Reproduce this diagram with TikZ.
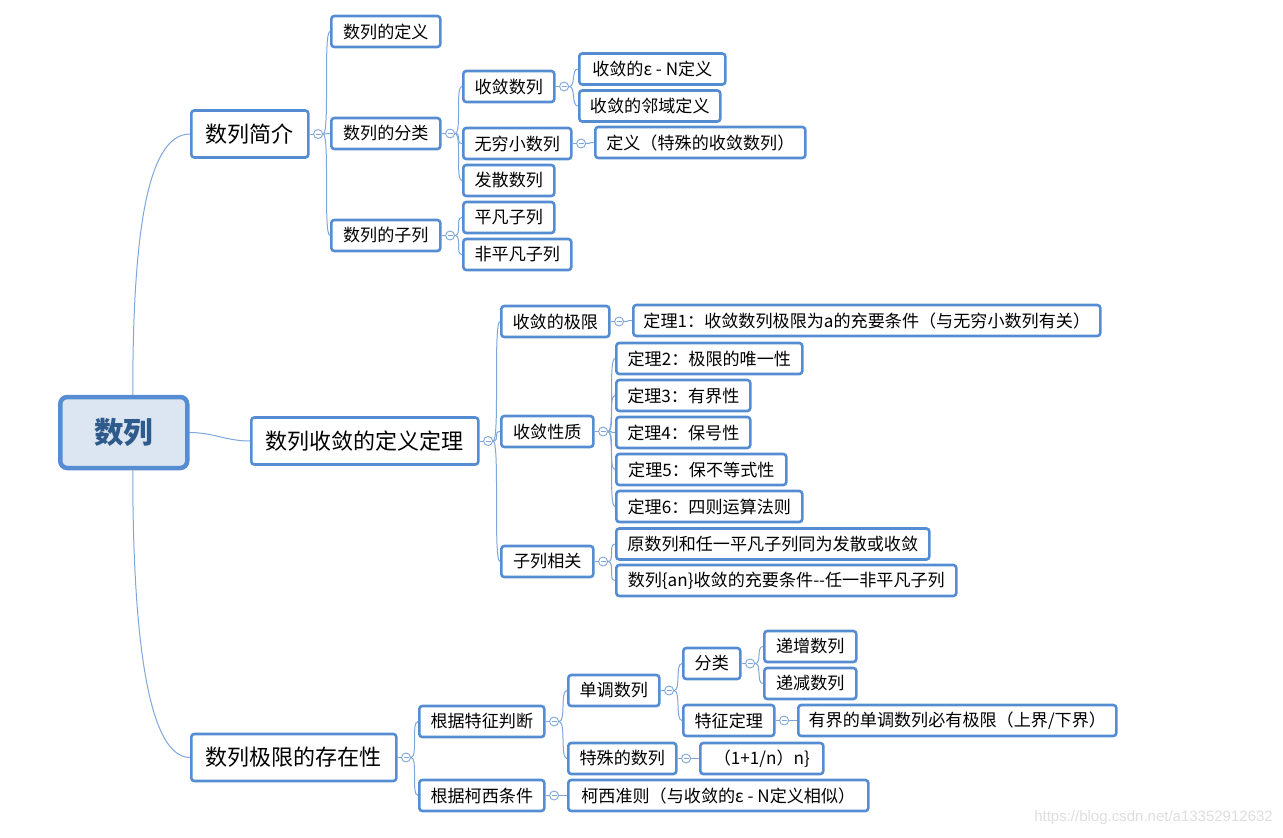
\documentclass[tikz,border=0pt]{standalone}
\usepackage{fontspec}
\newfontfamily\cjk{Noto Sans CJK SC}
\newfontfamily\wmfont{Liberation Sans}
\usetikzlibrary{calc,backgrounds}
\definecolor{bord}{RGB}{86,141,210}
\definecolor{conn}{RGB}{126,166,219}
\definecolor{rootfill}{RGB}{220,230,242}
\definecolor{roottext}{RGB}{47,90,140}
\newcommand\mmbox[6][box]{\pgfmathsetmacro\mmw{#4-#3}\node[#1,minimum width=\mmw pt,anchor=west] (#2) at (#3,#5) {#6};}
\newcommand\mmfan[2]{%
  \begin{pgfonlayer}{background}
  \node[col] (#1c) at ([xshift=8.5pt]#1.east) {};
  \draw[cline] (#1.east) -- (#1c.west);
  \foreach \ch in {#2} {\draw[cline] (#1c.east) to[out=0,in=180,out distance=7pt,in distance=7pt] (\ch.west);}
  \end{pgfonlayer}}
\begin{document}
\begin{tikzpicture}[x=1pt,y=-1pt,
  box/.style={draw=bord, line width=2.6pt, rounded corners=3pt, fill=white, inner sep=0pt,
    minimum height=31pt, font=\cjk\fontsize{17.1}{19}\selectfont},
  big/.style={box, minimum height=47pt, font=\cjk\fontsize{22}{24}\selectfont},
  rootbox/.style={draw=bord, line width=4.5pt, rounded corners=7pt, fill=rootfill, inner sep=0pt,
    minimum height=71pt, text=roottext, font=\cjk\bfseries\fontsize{29.5}{32}\selectfont},
  cline/.style={draw=conn, line width=1pt},
  col/.style={circle, draw=conn, fill=white, line width=0.9pt, minimum size=9pt, inner sep=0pt,
    path picture={\draw[conn,line width=0.9pt] ([xshift=-2.6pt]path picture bounding box.center) -- ([xshift=2.6pt]path picture bounding box.center);}}
]
\useasboundingbox (0,0) rectangle (1283,838);
% root
\mmbox[rootbox]{root}{58}{185}{432.5}{数列}
% level 1
\mmbox[big]{b1}{190}{307}{134}{数列简介}
\mmbox[big]{b2}{250}{477}{441}{数列收敛的定义定理}
\mmbox[big]{b3}{190}{395}{757.5}{数列极限的存在性}
% branch 1
\mmbox{a1}{330}{439}{31.5}{数列的定义}
\mmbox{a2}{330}{439}{133.5}{数列的分类}
\mmbox{a3}{330}{439}{235.5}{数列的子列}
\mmbox{a21}{462}{553}{86.5}{收敛数列}
\mmbox{a22}{462}{570}{143.5}{无穷小数列}
\mmbox{a23}{462}{553}{180.5}{发散数列}
\mmbox{a31}{462}{553}{217.5}{平凡子列}
\mmbox{a32}{462}{570}{254.5}{非平凡子列}
\mmbox{a211}{578}{724}{69}{收敛的ε - N定义}
\mmbox{a212}{578}{719}{106}{收敛的邻域定义}
\mmbox{a221}{594}{804}{142.5}{定义（特殊的收敛数列）}
% branch 2
\mmbox{c1}{500}{608}{321.5}{收敛的极限}
\mmbox{c11}{632}{1099}{320.5}{定理1：收敛数列极限为a的充要条件（与无穷小数列有关）}
\mmbox{c2}{500}{592}{431.5}{收敛性质}
\mmbox{c21}{615}{801}{358.5}{定理2：极限的唯一性}
\mmbox{c22}{615}{749}{395.5}{定理3：有界性}
\mmbox{c23}{615}{749}{432.5}{定理4：保号性}
\mmbox{c24}{615}{785}{469.5}{定理5：保不等式性}
\mmbox{c25}{615}{801}{506.5}{定理6：四则运算法则}
\mmbox{c3}{500}{592}{561.5}{子列相关}
\mmbox{c31}{615}{928}{544}{原数列和任一平凡子列同为发散或收敛}
\mmbox{c32}{615}{955}{580.5}{数列\{an\}收敛的充要条件-{}-任一非平凡子列}
% branch 3
\mmbox{d1}{418}{543}{721.5}{根据特征判断}
\mmbox{d2}{418}{543}{795.5}{根据柯西条件}
\mmbox{d11}{567}{658}{690.5}{单调数列}
\mmbox{d12}{567}{675}{758.5}{特殊的数列}
\mmbox{d111}{682}{739}{663.5}{分类}
\mmbox{d112}{682}{773}{720.5}{特征定理}
\mmbox{d1111}{763}{855}{646.5}{递增数列}
\mmbox{d1112}{763}{855}{683.5}{递减数列}
\mmbox{d1121}{797}{1115}{720.5}{有界的单调数列必有极限（上界/下界）}
\mmbox{d121}{699}{822}{758.5}{（1+1/n）n\}}
\mmbox{d21}{567}{867}{795.5}{柯西准则（与收敛的ε - N定义相似）}
% connectors from root
\begin{pgfonlayer}{background}
\coordinate (rt) at ([xshift=9pt]root.north);
\coordinate (rb) at ([xshift=9pt]root.south);
\draw[cline] (rt) .. controls ([yshift=150pt]rt) and ([xshift=-45pt]b1.west) .. (b1.west);
\draw[cline] (rb) .. controls ([yshift=-150pt]rb) and ([xshift=-45pt]b3.west) .. (b3.west);
\draw[cline] (root.east) to[out=0,in=180] (b2.west);
\end{pgfonlayer}
% fans
\mmfan{b1}{a1,a2,a3}
\mmfan{a2}{a21,a22,a23}
\mmfan{a3}{a31,a32}
\mmfan{a21}{a211,a212}
\mmfan{a22}{a221}
\mmfan{b2}{c1,c2,c3}
\mmfan{c1}{c11}
\mmfan{c2}{c21,c22,c23,c24,c25}
\mmfan{c3}{c31,c32}
\mmfan{b3}{d1,d2}
\mmfan{d1}{d11,d12}
\mmfan{d11}{d111,d112}
\mmfan{d111}{d1111,d1112}
\mmfan{d112}{d1121}
\mmfan{d12}{d121}
\mmfan{d2}{d21}
% watermark
\node[font=\wmfont\fontsize{15}{15}\selectfont, text=black!13, anchor=east, inner sep=0pt] (wm) at (1273,818) {https://blog.csdn.net/a13352912632};
\end{tikzpicture}
\end{document}
